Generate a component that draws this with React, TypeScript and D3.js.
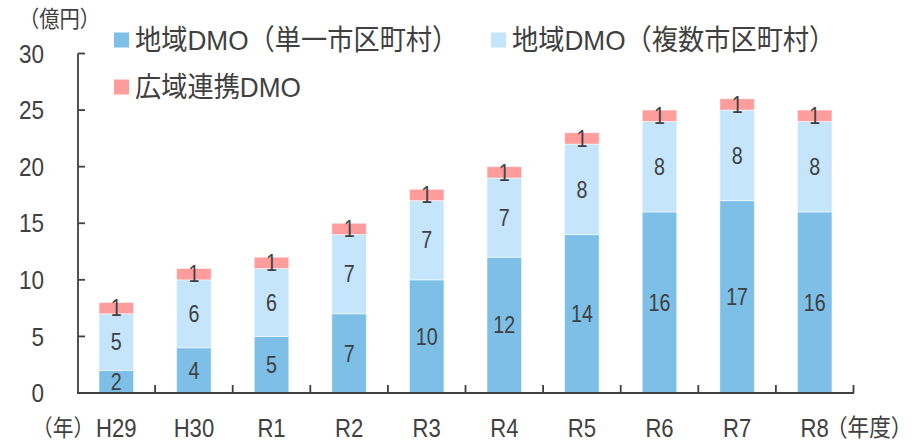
import React from "react";
import * as d3 from "d3";

const categories = ["H29", "H30", "R1", "R2", "R3", "R4", "R5", "R6", "R7", "R8"];
const singleMunicipality = [2, 4, 5, 7, 10, 12, 14, 16, 17, 16];
const multiMunicipality = [5, 6, 6, 7, 7, 7, 8, 8, 8, 8];
const wideArea = [1, 1, 1, 1, 1, 1, 1, 1, 1, 1];
const yTicks = [0, 5, 10, 15, 20, 25, 30];
const seriesNames = ["地域DMO（単一市区町村）", "地域DMO（複数市区町村）", "広域連携DMO"];
const seriesColors = ["#7DBFE7", "#C4E5FB", "#FF9C9C"];

const W = 921;
const H = 443;
const TEXT = "#404040";
const FONT = "'Liberation Sans', Arial, sans-serif";
const CJK = "'Liberation Sans', 'Noto Sans CJK JP', sans-serif";

function T(props: {
  x: number;
  y: number;
  size: number;
  sx?: number;
  anchor?: "start" | "middle" | "end";
  family?: string;
  children: React.ReactNode;
}) {
  const sx = props.sx ?? 0.85;
  return (
    <text
      transform={`translate(${props.x},${props.y}) scale(${sx},1)`}
      textAnchor={props.anchor ?? "start"}
      dominantBaseline="central"
      fontFamily={props.family ?? FONT}
      fontSize={props.size}
      fill={TEXT}
    >
      {props.children}
    </text>
  );
}

export default function App() {
  const x = d3.scaleBand<string>().domain(categories).range([77.5, 853.5]).padding(0);
  const y = d3.scaleLinear().domain([0, 30]).range([393, 53.5]);
  const barW = x.step() * 0.445;

  const rows = categories.map((c, i) => ({
    c,
    vals: [singleMunicipality[i], multiMunicipality[i], wideArea[i]],
  }));
  const stack = d3.stack<any>().keys(["0", "1", "2"]).value((d: any, k: string) => d.vals[+k]);
  const series = stack(rows);

  return (
    <svg width={W} height={H} style={{ position: "absolute", left: 0, top: 0, background: "#fff" }}>
      {/* bars */}
      {series.map((s, si) => (
        <g key={si}>
          {s.map((d, i) => {
            const cx = (x(categories[i]) as number) + x.step() / 2;
            const y0 = y(d[0]);
            const y1 = y(d[1]);
            return (
              <g key={i}>
                <rect
                  x={cx - barW / 2}
                  y={y1}
                  width={barW}
                  height={y0 - y1}
                  fill={seriesColors[si]}
                  stroke="#ffffff"
                  strokeOpacity={0.5}
                  strokeWidth={1}
                />
                <T x={cx} y={(y0 + y1) / 2} size={24} sx={0.82} anchor="middle">
                  {rows[i].vals[si]}
                </T>
              </g>
            );
          })}
        </g>
      ))}

      {/* y axis */}
      <line x1={78} x2={78} y1={y(30)} y2={y(0)} stroke={TEXT} strokeWidth={1.8} />
      {yTicks.map((t) => (
        <g key={t}>
          <line x1={78} x2={85} y1={y(t)} y2={y(t)} stroke={TEXT} strokeWidth={1.8} />
          <T x={44} y={y(t)} size={26.5} anchor="end">
            {t}
          </T>
        </g>
      ))}
      <T x={19} y={20} size={22.5} sx={0.9} family={CJK}>
        （億円）
      </T>

      {/* x axis */}
      <line x1={77} x2={854} y1={y(0)} y2={y(0)} stroke={TEXT} strokeWidth={2} />
      {categories.map((c, i) => (
        <line
          key={"t" + i}
          x1={(x(c) as number) + x.step()}
          x2={(x(c) as number) + x.step()}
          y1={y(0)}
          y2={y(0) - 8}
          stroke={TEXT}
          strokeWidth={1.8}
        />
      ))}
      {categories.map((c) => (
        <T key={"l" + c} x={(x(c) as number) + x.step() / 2} y={428} size={26} anchor="middle">
          {c}
        </T>
      ))}
      <T x={32} y={428} size={23} sx={0.9} family={CJK}>
        （年）
      </T>
      <T x={826} y={428} size={24} sx={0.9} family={CJK}>
        （年度）
      </T>

      {/* legend */}
      {[
        { lx: 114, ly: 40 },
        { lx: 491, ly: 40 },
        { lx: 114, ly: 87 },
      ].map((p, i) => (
        <g key={"lg" + i}>
          <rect x={p.lx} y={p.ly - 7.5} width={15} height={15} fill={seriesColors[i]} />
          <T x={p.lx + 21} y={p.ly} size={28.5} sx={0.92} family={CJK}>
            {seriesNames[i]}
          </T>
        </g>
      ))}
    </svg>
  );
}
